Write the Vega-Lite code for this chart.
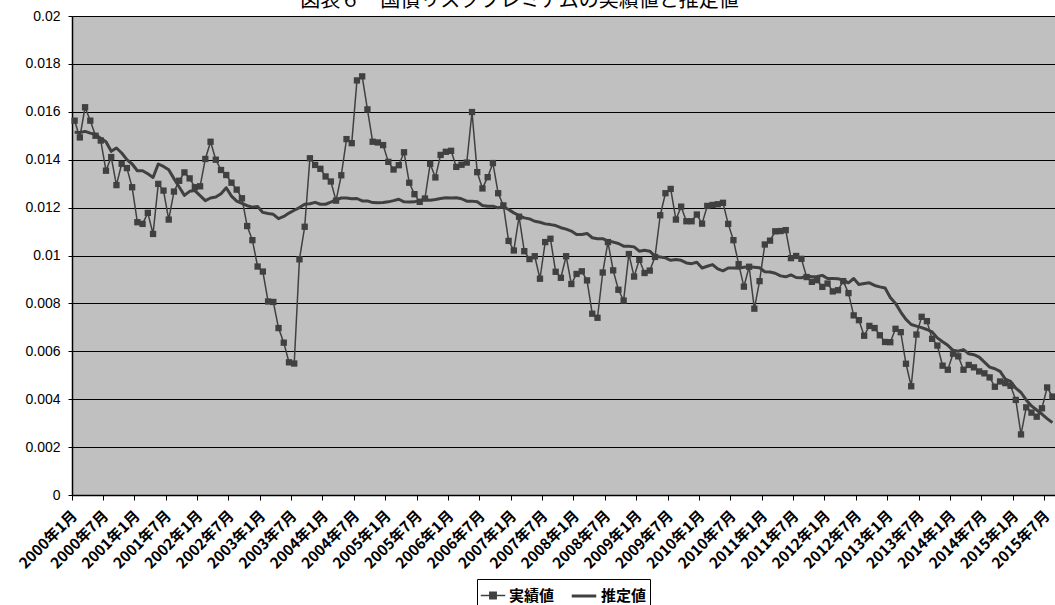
{
  "$schema": "https://vega.github.io/schema/vega-lite/v6.json",
  "width": 983,
  "height": 479,
  "autosize": {"type": "none"},
  "padding": {"left": 72, "top": 16, "right": 0, "bottom": 110},
  "background": "#ffffff",
  "title": {
    "text": "図表６　国債リスクプレミアムの実績値と推定値",
    "font": "Noto Sans CJK JP",
    "fontSize": 20,
    "fontWeight": "normal",
    "color": "#000000",
    "anchor": "middle",
    "baseline": "alphabetic",
    "dx": -44,
    "offset": -18
  },
  "config": {
    "view": {"stroke": null, "fill": "#c0c0c0"},
    "legend": {"layout": {"bottom": {"anchor": "middle"}}}
  },
  "data": {
    "values": [
      {"month": "2000年1月", "実績値": 0.01563, "推定値": 0.01515},
      {"month": "2000年2月", "実績値": 0.01493, "推定値": 0.01514},
      {"month": "2000年3月", "実績値": 0.01619, "推定値": 0.01518},
      {"month": "2000年4月", "実績値": 0.01563, "推定値": 0.01511},
      {"month": "2000年5月", "実績値": 0.0150, "推定値": 0.01505},
      {"month": "2000年6月", "実績値": 0.0148, "推定値": 0.01489},
      {"month": "2000年7月", "実績値": 0.01354, "推定値": 0.01475},
      {"month": "2000年8月", "実績値": 0.01411, "推定値": 0.01435},
      {"month": "2000年9月", "実績値": 0.01294, "推定値": 0.01449},
      {"month": "2000年10月", "実績値": 0.01383, "推定値": 0.01428},
      {"month": "2000年11月", "実績値": 0.01365, "推定値": 0.0140},
      {"month": "2000年12月", "実績値": 0.01285, "推定値": 0.01382},
      {"month": "2001年1月", "実績値": 0.01139, "推定値": 0.01354},
      {"month": "2001年2月", "実績値": 0.01132, "推定値": 0.01354},
      {"month": "2001年3月", "実績値": 0.01178, "推定値": 0.01341},
      {"month": "2001年4月", "実績値": 0.0109, "推定値": 0.01326},
      {"month": "2001年5月", "実績値": 0.01299, "推定値": 0.01382},
      {"month": "2001年6月", "実績値": 0.01271, "推定値": 0.01372},
      {"month": "2001年7月", "実績値": 0.0115, "推定値": 0.01358},
      {"month": "2001年8月", "実績値": 0.01267, "推定値": 0.01321},
      {"month": "2001年9月", "実績値": 0.01312, "推定値": 0.01286},
      {"month": "2001年10月", "実績値": 0.01347, "推定値": 0.01251},
      {"month": "2001年11月", "実績値": 0.01322, "推定値": 0.01268},
      {"month": "2001年12月", "実績値": 0.01285, "推定値": 0.01271},
      {"month": "2002年1月", "実績値": 0.01289, "推定値": 0.0125},
      {"month": "2002年2月", "実績値": 0.01403, "推定値": 0.01229},
      {"month": "2002年3月", "実績値": 0.01475, "推定値": 0.0124},
      {"month": "2002年4月", "実績値": 0.0140, "推定値": 0.01244},
      {"month": "2002年5月", "実績値": 0.01357, "推定値": 0.01258},
      {"month": "2002年6月", "実績値": 0.01336, "推定値": 0.01283},
      {"month": "2002年7月", "実績値": 0.01304, "推定値": 0.01248},
      {"month": "2002年8月", "実績値": 0.01275, "推定値": 0.01227},
      {"month": "2002年9月", "実績値": 0.01239, "推定値": 0.01218},
      {"month": "2002年10月", "実績値": 0.01123, "推定値": 0.01208},
      {"month": "2002年11月", "実績値": 0.01064, "推定値": 0.01202},
      {"month": "2002年12月", "実績値": 0.00954, "推定値": 0.01205},
      {"month": "2003年1月", "実績値": 0.00933, "推定値": 0.0118},
      {"month": "2003年2月", "実績値": 0.00808, "推定値": 0.01175},
      {"month": "2003年3月", "実績値": 0.00806, "推定値": 0.01172},
      {"month": "2003年4月", "実績値": 0.00697, "推定値": 0.01154},
      {"month": "2003年5月", "実績値": 0.00636, "推定値": 0.01163},
      {"month": "2003年6月", "実績値": 0.00554, "推定値": 0.01177},
      {"month": "2003年7月", "実績値": 0.00549, "推定値": 0.01189},
      {"month": "2003年8月", "実績値": 0.00984, "推定値": 0.012},
      {"month": "2003年9月", "実績値": 0.0112, "推定値": 0.01214},
      {"month": "2003年10月", "実績値": 0.01406, "推定値": 0.01216},
      {"month": "2003年11月", "実績値": 0.01378, "推定値": 0.01222},
      {"month": "2003年12月", "実績値": 0.01362, "推定値": 0.01214},
      {"month": "2004年1月", "実績値": 0.0133, "推定値": 0.01214},
      {"month": "2004年2月", "実績値": 0.01309, "推定値": 0.01223},
      {"month": "2004年3月", "実績値": 0.01229, "推定値": 0.01232},
      {"month": "2004年4月", "実績値": 0.01335, "推定値": 0.0124},
      {"month": "2004年5月", "実績値": 0.01486, "推定値": 0.0124},
      {"month": "2004年6月", "実績値": 0.01469, "推定値": 0.01237},
      {"month": "2004年7月", "実績値": 0.01731, "推定値": 0.01238},
      {"month": "2004年8月", "実績値": 0.01748, "推定値": 0.01228},
      {"month": "2004年9月", "実績値": 0.0161, "推定値": 0.01228},
      {"month": "2004年10月", "実績値": 0.01475, "推定値": 0.01221},
      {"month": "2004年11月", "実績値": 0.01472, "推定値": 0.0122},
      {"month": "2004年12月", "実績値": 0.01461, "推定値": 0.01221},
      {"month": "2005年1月", "実績値": 0.01391, "推定値": 0.01224},
      {"month": "2005年2月", "実績値": 0.01359, "推定値": 0.01229},
      {"month": "2005年3月", "実績値": 0.01377, "推定値": 0.01235},
      {"month": "2005年4月", "実績値": 0.01431, "推定値": 0.01224},
      {"month": "2005年5月", "実績値": 0.01304, "推定値": 0.01223},
      {"month": "2005年6月", "実績値": 0.01256, "推定値": 0.01224},
      {"month": "2005年7月", "実績値": 0.01224, "推定値": 0.0123},
      {"month": "2005年8月", "実績値": 0.01238, "推定値": 0.01234},
      {"month": "2005年9月", "実績値": 0.01383, "推定値": 0.01231},
      {"month": "2005年10月", "実績値": 0.01326, "推定値": 0.01234},
      {"month": "2005年11月", "実績値": 0.0142, "推定値": 0.01238},
      {"month": "2005年12月", "実績値": 0.01433, "推定値": 0.01241},
      {"month": "2006年1月", "実績値": 0.01437, "推定値": 0.0124},
      {"month": "2006年2月", "実績値": 0.0137, "推定値": 0.01241},
      {"month": "2006年3月", "実績値": 0.01379, "推定値": 0.01237},
      {"month": "2006年4月", "実績値": 0.01388, "推定値": 0.01227},
      {"month": "2006年5月", "実績値": 0.01599, "推定値": 0.01227},
      {"month": "2006年6月", "実績値": 0.01348, "推定値": 0.01224},
      {"month": "2006年7月", "実績値": 0.0128, "推定値": 0.01209},
      {"month": "2006年8月", "実績値": 0.01327, "推定値": 0.01206},
      {"month": "2006年9月", "実績値": 0.01386, "推定値": 0.01206},
      {"month": "2006年10月", "実績値": 0.0126, "推定値": 0.01199},
      {"month": "2006年11月", "実績値": 0.01209, "推定値": 0.01203},
      {"month": "2006年12月", "実績値": 0.01061, "推定値": 0.01192},
      {"month": "2007年1月", "実績値": 0.01021, "推定値": 0.01178},
      {"month": "2007年2月", "実績値": 0.01162, "推定値": 0.01167},
      {"month": "2007年3月", "実績値": 0.01018, "推定値": 0.01157},
      {"month": "2007年4月", "実績値": 0.00985, "推定値": 0.01153},
      {"month": "2007年5月", "実績値": 0.00997, "推定値": 0.01143},
      {"month": "2007年6月", "実績値": 0.00903, "推定値": 0.01139},
      {"month": "2007年7月", "実績値": 0.01056, "推定値": 0.01132},
      {"month": "2007年8月", "実績値": 0.0107, "推定値": 0.01129},
      {"month": "2007年9月", "実績値": 0.00932, "推定値": 0.01125},
      {"month": "2007年10月", "実績値": 0.00907, "推定値": 0.01116},
      {"month": "2007年11月", "実績値": 0.00997, "推定値": 0.0111},
      {"month": "2007年12月", "実績値": 0.00881, "推定値": 0.01102},
      {"month": "2008年1月", "実績値": 0.00923, "推定値": 0.01088},
      {"month": "2008年2月", "実績値": 0.00934, "推定値": 0.01088},
      {"month": "2008年3月", "実績値": 0.00896, "推定値": 0.01092},
      {"month": "2008年4月", "実績値": 0.00757, "推定値": 0.01074},
      {"month": "2008年5月", "実績値": 0.0074, "推定値": 0.0107},
      {"month": "2008年6月", "実績値": 0.00929, "推定値": 0.0107},
      {"month": "2008年7月", "実績値": 0.01056, "推定値": 0.0106},
      {"month": "2008年8月", "実績値": 0.00938, "推定値": 0.01056},
      {"month": "2008年9月", "実績値": 0.00857, "推定値": 0.0105},
      {"month": "2008年10月", "実績値": 0.00812, "推定値": 0.01039},
      {"month": "2008年11月", "実績値": 0.01006, "推定値": 0.01039},
      {"month": "2008年12月", "実績値": 0.00912, "推定値": 0.01036},
      {"month": "2009年1月", "実績値": 0.00982, "推定値": 0.01018},
      {"month": "2009年2月", "実績値": 0.00927, "推定値": 0.01022},
      {"month": "2009年3月", "実績値": 0.00937, "推定値": 0.01018},
      {"month": "2009年4月", "実績値": 0.00994, "推定値": 0.00997},
      {"month": "2009年5月", "実績値": 0.01168, "推定値": 0.00994},
      {"month": "2009年6月", "実績値": 0.0126, "推定値": 0.0099},
      {"month": "2009年7月", "実績値": 0.01278, "推定値": 0.0098},
      {"month": "2009年8月", "実績値": 0.0115, "推定値": 0.00983},
      {"month": "2009年9月", "実績値": 0.01204, "推定値": 0.0098},
      {"month": "2009年10月", "実績値": 0.01143, "推定値": 0.00969},
      {"month": "2009年11月", "実績値": 0.01143, "推定値": 0.00966},
      {"month": "2009年12月", "実績値": 0.01171, "推定値": 0.00972},
      {"month": "2010年1月", "実績値": 0.01133, "推定値": 0.00948},
      {"month": "2010年2月", "実績値": 0.01207, "推定値": 0.00955},
      {"month": "2010年3月", "実績値": 0.01211, "推定値": 0.00962},
      {"month": "2010年4月", "実績値": 0.01214, "推定値": 0.00944},
      {"month": "2010年5月", "実績値": 0.0122, "推定値": 0.00936},
      {"month": "2010年6月", "実績値": 0.01132, "推定値": 0.00948},
      {"month": "2010年7月", "実績値": 0.01064, "推定値": 0.00948},
      {"month": "2010年8月", "実績値": 0.00964, "推定値": 0.00947},
      {"month": "2010年9月", "実績値": 0.0087, "推定値": 0.00951},
      {"month": "2010年10月", "実績値": 0.00953, "推定値": 0.00953},
      {"month": "2010年11月", "実績値": 0.00778, "推定値": 0.00951},
      {"month": "2010年12月", "実績値": 0.00893, "推定値": 0.00949},
      {"month": "2011年1月", "実績値": 0.01046, "推定値": 0.00932},
      {"month": "2011年2月", "実績値": 0.01062, "推定値": 0.00931},
      {"month": "2011年3月", "実績値": 0.01101, "推定値": 0.00926},
      {"month": "2011年4月", "実績値": 0.01102, "推定値": 0.00915},
      {"month": "2011年5月", "実績値": 0.01106, "推定値": 0.00911},
      {"month": "2011年6月", "実績値": 0.00989, "推定値": 0.00919},
      {"month": "2011年7月", "実績値": 0.00998, "推定値": 0.00908},
      {"month": "2011年8月", "実績値": 0.00986, "推定値": 0.00907},
      {"month": "2011年9月", "実績値": 0.0091, "推定値": 0.00914},
      {"month": "2011年10月", "実績値": 0.0089, "推定値": 0.00911},
      {"month": "2011年11月", "実績値": 0.00897, "推定値": 0.00912},
      {"month": "2011年12月", "実績値": 0.00869, "推定値": 0.00917},
      {"month": "2012年1月", "実績値": 0.00883, "推定値": 0.00904},
      {"month": "2012年2月", "実績値": 0.0085, "推定値": 0.00904},
      {"month": "2012年3月", "実績値": 0.00855, "推定値": 0.00903},
      {"month": "2012年4月", "実績値": 0.00893, "推定値": 0.00897},
      {"month": "2012年5月", "実績値": 0.00843, "推定値": 0.00886},
      {"month": "2012年6月", "実績値": 0.0075, "推定値": 0.00904},
      {"month": "2012年7月", "実績値": 0.0073, "推定値": 0.00879},
      {"month": "2012年8月", "実績値": 0.00665, "推定値": 0.00883},
      {"month": "2012年9月", "実績値": 0.00706, "推定値": 0.00886},
      {"month": "2012年10月", "実績値": 0.00697, "推定値": 0.00875},
      {"month": "2012年11月", "実績値": 0.00667, "推定値": 0.00869},
      {"month": "2012年12月", "実績値": 0.00639, "推定値": 0.00864},
      {"month": "2013年1月", "実績値": 0.00638, "推定値": 0.00825},
      {"month": "2013年2月", "実績値": 0.00694, "推定値": 0.008},
      {"month": "2013年3月", "実績値": 0.0068, "推定値": 0.00764},
      {"month": "2013年4月", "実績値": 0.00548, "推定値": 0.00733},
      {"month": "2013年5月", "実績値": 0.00454, "推定値": 0.00712},
      {"month": "2013年6月", "実績値": 0.0067, "推定値": 0.00705},
      {"month": "2013年7月", "実績値": 0.00744, "推定値": 0.00699},
      {"month": "2013年8月", "実績値": 0.00726, "推定値": 0.00691},
      {"month": "2013年9月", "実績値": 0.00652, "推定値": 0.00681},
      {"month": "2013年10月", "実績値": 0.00624, "推定値": 0.00656},
      {"month": "2013年11月", "実績値": 0.0054, "推定値": 0.0064},
      {"month": "2013年12月", "実績値": 0.00523, "推定値": 0.00625},
      {"month": "2014年1月", "実績値": 0.0059, "推定値": 0.00604},
      {"month": "2014年2月", "実績値": 0.00579, "推定値": 0.006},
      {"month": "2014年3月", "実績値": 0.00523, "推定値": 0.00607},
      {"month": "2014年4月", "実績値": 0.00543, "推定値": 0.0059},
      {"month": "2014年5月", "実績値": 0.00533, "推定値": 0.00586},
      {"month": "2014年6月", "実績値": 0.00516, "推定値": 0.00576},
      {"month": "2014年7月", "実績値": 0.00508, "推定値": 0.00555},
      {"month": "2014年8月", "実績値": 0.00491, "推定値": 0.00534},
      {"month": "2014年9月", "実績値": 0.00452, "推定値": 0.00527},
      {"month": "2014年10月", "実績値": 0.00474, "推定値": 0.00516},
      {"month": "2014年11月", "実績値": 0.00467, "推定値": 0.00484},
      {"month": "2014年12月", "実績値": 0.00456, "推定値": 0.00474},
      {"month": "2015年1月", "実績値": 0.00397, "推定値": 0.00446},
      {"month": "2015年2月", "実績値": 0.00253, "推定値": 0.00428},
      {"month": "2015年3月", "実績値": 0.00366, "推定値": 0.00397},
      {"month": "2015年4月", "実績値": 0.00344, "推定値": 0.00372},
      {"month": "2015年5月", "実績値": 0.00327, "推定値": 0.00355},
      {"month": "2015年6月", "実績値": 0.00362, "推定値": 0.00338},
      {"month": "2015年7月", "実績値": 0.00449, "推定値": 0.00319},
      {"month": "2015年8月", "実績値": 0.00411, "推定値": 0.00302}
    ]
  },
  "transform": [
    {"fold": ["実績値", "推定値"], "as": ["series", "value"]}
  ],
  "encoding": {
    "x": {
      "field": "month",
      "type": "ordinal",
      "sort": null,
      "bandPosition": 0.5,
      "scale": {"type": "band", "paddingInner": 0, "paddingOuter": 0},
      "axis": {
        "title": null,
        "values": ["2000年1月", "2000年7月", "2001年1月", "2001年7月", "2002年1月", "2002年7月", "2003年1月", "2003年7月", "2004年1月", "2004年7月", "2005年1月", "2005年7月", "2006年1月", "2006年7月", "2007年1月", "2007年7月", "2008年1月", "2008年7月", "2009年1月", "2009年7月", "2010年1月", "2010年7月", "2011年1月", "2011年7月", "2012年1月", "2012年7月", "2013年1月", "2013年7月", "2014年1月", "2014年7月", "2015年1月", "2015年7月"],
        "bandPosition": 0,
        "grid": false,
        "domainColor": "#000000",
        "domainWidth": 1.5,
        "tickColor": "#000000",
        "tickSize": 5,
        "tickWidth": 1,
        "labelAngle": -45,
        "labelAlign": "right",
        "labelBaseline": "top",
        "labelFont": "Noto Sans CJK JP",
        "labelFontWeight": "bold",
        "labelFontSize": 15,
        "labelColor": "#000000",
        "labelPadding": 8,
        "labelOffset": -5,
        "labelOverlap": false
      }
    },
    "y": {
      "field": "value",
      "type": "quantitative",
      "scale": {"domain": [0, 0.02], "nice": false, "zero": true},
      "axis": {
        "title": null,
        "values": [0, 0.002, 0.004, 0.006, 0.008, 0.01, 0.012, 0.014, 0.016, 0.018, 0.02],
        "format": "~g",
        "grid": true,
        "gridColor": "#000000",
        "gridWidth": 1,
        "gridOpacity": 1,
        "domainColor": "#000000",
        "domainWidth": 1.5,
        "tickColor": "#000000",
        "tickSize": 4,
        "labelFont": "Liberation Sans",
        "labelFontSize": 14,
        "labelColor": "#000000",
        "labelPadding": 8
      }
    }
  },
  "layer": [
    {
      "mark": {"type": "line", "strokeJoin": "round", "strokeCap": "butt"},
      "encoding": {
        "color": {
          "field": "series",
          "type": "nominal",
          "scale": {"domain": ["実績値", "推定値"], "range": ["#404040", "#404040"]},
          "legend": {
            "title": null,
            "orient": "bottom",
            "direction": "horizontal",
            "offset": 7,
            "padding": 3,
            "strokeColor": "#000000",
            "fillColor": "#ffffff",
            "labelFont": "Noto Sans CJK JP",
            "labelFontSize": 15,
            "labelFontWeight": "bold",
            "labelColor": "#000000",
            "labelOffset": 3,
            "columnPadding": 10,
            "symbolSize": 600,
            "symbolFillColor": "#404040",
            "symbolType": {"expr": "datum.value == '実績値' ? 'M-1,0H1M-0.26,-0.26H0.26V0.26H-0.26Z' : 'M-1,0H1'"}
          }
        },
        "strokeWidth": {
          "field": "series",
          "type": "nominal",
          "scale": {"domain": ["実績値", "推定値"], "range": [1.5, 3]},
          "legend": {
            "title": null,
            "orient": "bottom",
            "direction": "horizontal"
          }
        }
      }
    },
    {
      "transform": [{"filter": "datum.series == '実績値'"}],
      "mark": {"type": "square", "size": 40, "color": "#404040", "opacity": 1, "filled": true}
    }
  ]
}
